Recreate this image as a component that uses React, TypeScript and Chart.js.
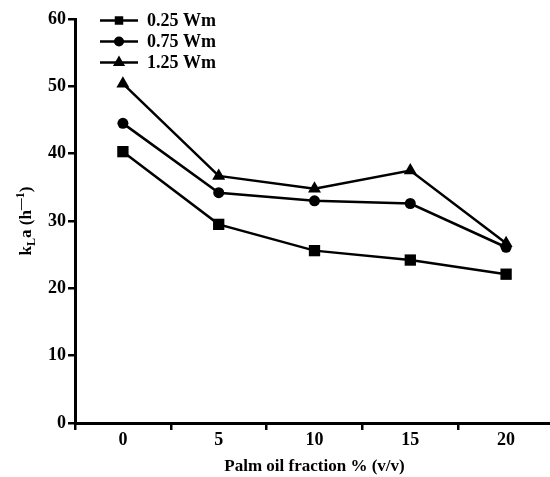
import React, { useEffect, useRef } from "react";
import { Chart, registerables } from "chart.js";

Chart.register(...registerables);

const categories = ["0", "5", "10", "15", "20"];
const series025 = [40.3, 29.5, 25.6, 24.2, 22.1];
const series075 = [44.5, 34.2, 33.0, 32.6, 26.1];
const series125 = [50.4, 36.7, 34.8, 37.5, 26.7];
const seriesLabels = ["0.25 Wm", "0.75 Wm", "1.25 Wm"];
const yTicks = [0, 10, 20, 30, 40, 50, 60];

const FONT = '"Liberation Serif", "Times New Roman", serif';

const drawMarker = (ctx: CanvasRenderingContext2D, style: string, x: number, y: number, r: number) => {
  ctx.beginPath();
  if (style === "rect") {
    const s = Math.SQRT1_2 * r;
    ctx.rect(x - s, y - s, 2 * s, 2 * s);
  } else if (style === "circle") {
    ctx.arc(x, y, r, 0, Math.PI * 2);
  } else {
    const w = r * Math.sin(Math.PI / 3);
    ctx.moveTo(x, y - r);
    ctx.lineTo(x + w, y + r / 2);
    ctx.lineTo(x - w, y + r / 2);
    ctx.closePath();
  }
  ctx.fill();
};

const customPlugin = {
  id: "customDecor",
  afterDraw(chart: any) {
    const ctx = chart.ctx as CanvasRenderingContext2D;
    ctx.save();
    // legend
    const styles = ["rect", "circle", "triangle"];
    const radii = [6, 5, 7];
    const rows = [20.5, 41.5, 62.5];
    ctx.fillStyle = "#000";
    ctx.strokeStyle = "#000";
    ctx.lineWidth = 2.5;
    seriesLabels.forEach((lab, i) => {
      const y = rows[i];
      ctx.beginPath();
      ctx.moveTo(100, y);
      ctx.lineTo(138, y);
      ctx.stroke();
      drawMarker(ctx, styles[i], 119, y, radii[i]);
      ctx.font = `bold 18px ${FONT}`;
      ctx.textBaseline = "middle";
      ctx.textAlign = "left";
      ctx.fillText(lab, 147, y + 1);
    });
    // y title: k_L a (h^-1)
    ctx.translate(25, 221);
    ctx.rotate(-Math.PI / 2);
    const big = `bold 17px ${FONT}`;
    const small = `bold 12px ${FONT}`;
    const parts: [string, string, number][] = [
      ["k", big, 0],
      ["L", small, 4],
      ["a (h", big, 0],
      ["\u2014" + "1", small, -7],
      [")", big, 0],
    ];
    let total = 0;
    parts.forEach(([t, f]) => {
      ctx.font = f;
      total += ctx.measureText(t).width;
    });
    let x = -total / 2;
    ctx.textBaseline = "alphabetic";
    ctx.textAlign = "left";
    parts.forEach(([t, f, dy]) => {
      ctx.font = f;
      ctx.fillText(t, x, 6 + dy);
      x += ctx.measureText(t).width;
    });
    ctx.restore();
  },
};

export default function App() {
  const ref = useRef<HTMLCanvasElement>(null);
  useEffect(() => {
    document.body.style.margin = "0";
    const mk = (label: string, data: number[], ps: string, r: number) => ({
      label,
      data,
      borderColor: "#000",
      backgroundColor: "#000",
      borderWidth: 2.5,
      pointStyle: ps,
      pointRadius: r,
      pointBorderWidth: 0,
      pointBackgroundColor: "#000",
      tension: 0,
      fill: false,
    });
    const chart = new Chart(ref.current!, {
      type: "line",
      data: {
        labels: categories,
        datasets: [
          mk(seriesLabels[0], series025, "rect", 8),
          mk(seriesLabels[1], series075, "circle", 5.5),
          mk(seriesLabels[2], series125, "triangle", 7.5),
        ],
      },
      options: {
        animation: false,
        responsive: false,
        layout: { padding: { top: 19, right: 3, left: 0, bottom: 0 } },
        plugins: { legend: { display: false }, tooltip: { enabled: false } },
        scales: {
          x: {
            type: "category",
            offset: true,
            grid: {
              offset: true,
              drawOnChartArea: false,
              drawTicks: true,
              tickLength: 7,
              color: "#000",
              lineWidth: 2.5,
            },
            border: { display: true, color: "#000", width: 3 },
            ticks: {
              color: "#000",
              font: { family: FONT, size: 18, weight: "bold" },
              padding: 0,
              maxRotation: 0,
            },
            title: {
              display: true,
              text: "Palm oil fraction % (v/v)",
              color: "#000",
              font: { family: FONT, size: 17, weight: "bold" },
              padding: { top: 0, bottom: 0 },
            },
            afterFit: (s: any) => {
              s.height = 54;
            },
          },
          y: {
            min: 0,
            max: 60,
            afterBuildTicks: (s: any) => {
              s.ticks = yTicks.map((v) => ({ value: v }));
            },
            grid: {
              drawOnChartArea: false,
              drawTicks: true,
              tickLength: 7,
              color: "#000",
              lineWidth: 2.5,
            },
            border: { display: true, color: "#000", width: 3 },
            ticks: {
              color: "#000",
              font: { family: FONT, size: 18, weight: "bold" },
              padding: 2,
            },
            afterFit: (s: any) => {
              s.width = 75;
            },
          },
        },
      },
      plugins: [customPlugin],
    });
    return () => chart.destroy();
  }, []);
  return (
    <div style={{ position: "absolute", left: 0, top: 0, width: 550, height: 477, overflow: "hidden" }}>
      <canvas ref={ref} width={562} height={477} style={{ width: 562, height: 477, display: "block" }} />
    </div>
  );
}
